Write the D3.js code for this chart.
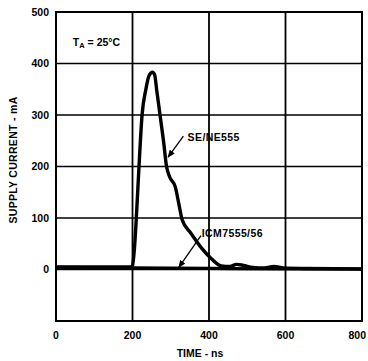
<!DOCTYPE html>
<html><head><meta charset="utf-8">
<script src="https://cdn.jsdelivr.net/npm/d3@7/dist/d3.min.js"></script>
<style>
body{margin:0;background:#fff;}
text{font-family:"Liberation Sans",Arial,sans-serif;font-weight:bold;fill:#000;}
</style></head>
<body><svg id="c" width="368" height="361"></svg>
<script>
const xTicks=[0,200,400,600,800];
const yTicks=[0,100,200,300,400,500];
const xGrid=[200,400,600];
const yGrid=[0,100,200,300,400];
const seTime=[0,100,195,200,205,210,217,225,235,243,252,258,263,272,281,289,297,312,321,330,352,379,405,432,455,472,490,515,545,570,595,650,800];
const seCurrent=[5,5,5,8,40,100,200,300,350,376,383,378,350,300,250,200,180,160,128,96,71,43,22,7,6,10,8,4,3,6,3,2,1];
const icmTime=[0,200,400,600,800];
const icmCurrent=[4,3,2,1,1];
const labels=[{text:"SE/NE555",t:344,v:257},{text:"ICM7555/56",t:381,v:70}];
const arrows=[{t0:333,v0:259,t1:293,v1:218},{t0:379,v0:66,t1:321,v1:4}];

const svg=d3.select("#c");
const x=d3.scaleLinear().domain([0,800]).range([56,362]);
const y=d3.scaleLinear().domain([-100,500]).range([321,12]);

svg.append("defs").append("marker").attr("id","ah").attr("viewBox","0 0 10 10")
 .attr("refX",9).attr("refY",5).attr("markerWidth",6).attr("markerHeight",6).attr("orient","auto")
 .append("path").attr("d","M0,1 L10,5 L0,9 z").attr("fill","#000");

// grid
svg.append("g").selectAll("line").data(yGrid).join("line")
 .attr("x1",x(0)).attr("x2",x(800)).attr("y1",d=>y(d)).attr("y2",d=>y(d))
 .attr("stroke","#000").attr("stroke-width",1.4);
svg.append("g").selectAll("line").data(xGrid).join("line")
 .attr("y1",y(-100)).attr("y2",y(500)).attr("x1",d=>x(d)).attr("x2",d=>x(d))
 .attr("stroke","#000").attr("stroke-width",1.8);
svg.append("rect").attr("x",x(0)).attr("y",y(500)).attr("width",x(800)-x(0)).attr("height",y(-100)-y(500))
 .attr("fill","none").attr("stroke","#000").attr("stroke-width",2);

// axes labels
svg.append("g").selectAll("text").data(yTicks).join("text")
 .attr("x",x(0)-7).attr("y",d=>y(d)).attr("dy","0.35em").attr("text-anchor","end")
 .attr("font-size",10.5).text(d=>d);
svg.append("g").selectAll("text").data(xTicks).join("text")
 .attr("x",(d,i)=>i===xTicks.length-1?366:x(d)).attr("y",339)
 .attr("text-anchor",(d,i)=>i===xTicks.length-1?"end":"middle")
 .attr("font-size",10.5).text(d=>d);
svg.append("text").attr("x",200).attr("y",357).attr("text-anchor","middle").attr("font-size",10.5).text("TIME - ns");
svg.append("text").attr("transform","translate(17,160) rotate(-90)").attr("text-anchor","middle")
 .attr("font-size",10.5).attr("letter-spacing",0.3).text("SUPPLY CURRENT - mA");

// TA
const ta=svg.append("text").attr("x",x(44)).attr("y",y(442)).attr("dy","0.35em").attr("font-size",10.5);
ta.append("tspan").text("T");
ta.append("tspan").attr("font-size",7.5).attr("dy",2).text("A");
ta.append("tspan").attr("dy",-2).text(" = 25°C");

// lines
const line=d3.line().x(d=>x(d[0])).y(d=>y(d[1])).curve(d3.curveMonotoneX);
svg.append("path").attr("d",line(icmTime.map((t,i)=>[t,icmCurrent[i]])))
 .attr("fill","none").attr("stroke","#000").attr("stroke-width",3.2);
svg.append("path").attr("d",line(seTime.map((t,i)=>[t,seCurrent[i]])))
 .attr("fill","none").attr("stroke","#000").attr("stroke-width",3.4).attr("stroke-linejoin","round");

// labels & arrows
svg.append("g").selectAll("text").data(labels).join("text")
 .attr("x",d=>x(d.t)).attr("y",d=>y(d.v)).attr("dy","0.35em").attr("font-size",10.5).attr("letter-spacing",0.4).text(d=>d.text);
svg.append("g").selectAll("line").data(arrows).join("line")
 .attr("x1",d=>x(d.t0)).attr("y1",d=>y(d.v0)).attr("x2",d=>x(d.t1)).attr("y2",d=>y(d.v1))
 .attr("stroke","#000").attr("stroke-width",1.3).attr("marker-end","url(#ah)");
</script></body></html>
